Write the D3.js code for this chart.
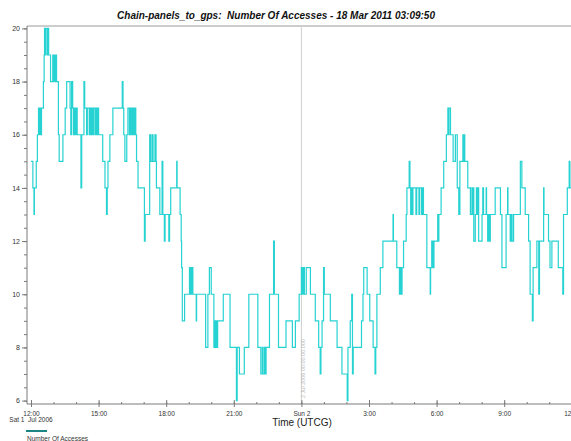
<!DOCTYPE html>
<html><head><meta charset="utf-8">
<script src="https://cdn.jsdelivr.net/npm/d3@7"></script>
<style>body{margin:0;background:#fff;}svg{display:block;font-family:"Liberation Sans",Arial,sans-serif;}text{white-space:pre;}</style>
</head><body>
<svg id="c" width="571" height="441"></svg>
<script>
// ---- data ----
const chartTitle = "Chain-panels_to_gps:  Number Of Accesses - 18 Mar 2011 03:09:50";
const startTime = "2006-07-01T12:00:00Z";
const endTime = "2006-07-02T12:00:00Z";
// step changes: minutes after start, number of accesses from that moment on
const stepMinutes = [0,5,8,9,14,17,20,22,24,26,28,33,35,36,38,39,43,45,47,52,58,61,62,64,65,68,73,75,85,91,95,104,106,108,111,113,115,118,120,123,133,135,141,143,148,150,155,157,160,162,165,167,171,173,176,178,180,191,197,201,203,205,210,218,243,245,247,250,255,258,262,265,268,271,274,277,279,281,285,302,304,316,318,322,325,330,333,334,343,
349,351,355,357,367,369,372,388,389,397,400,401,403,409,422,424,426,428,430,431,440,441,465,471,475,480,487,489,491,493,495,497,512,530,547,549,555,568,580,604,612,616,618,622,624,626,635,646,648,659,679,696,704,
714,720,722,725,728,733,744,757,766,770,772,775,779,781,797,815,828,842,844,850,854,856,858,880,884,886,895,902,911,916,918,921,930,937,964,965,974,981,983,985,988,992,999,1001,1007,1009,1011,1013,1015,1017,1025,1027,1033,1035,1040,1042,1045,1054,1063,1064,1067,1070,1073,
1077,1083,1085,1086,1092,1099,1106,1110,1112,1113,1117,1124,1130,1135,1139,1142,1150,1152,1153,1155,1163,1170,1174,1175,1178,1179,1183,1186,1188,1190,1192,1201,1203,1205,1212,1213,1216,1218,1220,1223,1236,1250,1254,1265,1269,1270,1276,1278,1281,1285,1303,1307,1316,1325,1329,1335,1337,1347,1352,1354,1365,1366,1378,1382,1387,1404,1416,1418,1428,1433,1435,1440];
const stepValues = [15,14,13,14,15,16,17,16,17,16,17,18,19,20,19,20,19,20,19,18,19,18,19,18,19,18,16,15,16,17,18,17,16,18,17,16,17,16,17,16,14,16,18,17,16,17,16,17,16,17,16,17,16,17,16,17,16,15,14,13,14,15,16,17,18,17,16,15,16,17,16,17,16,17,16,17,16,15,14,12,13,16,15,16,15,16,15,14,13,
15,13,12,13,12,13,14,15,14,13,12,11,9,10,11,10,11,10,11,10,9,10,8,10,11,10,8,9,8,9,8,9,10,8,6,8,7,8,10,8,7,8,7,8,7,8,10,12,10,8,9,8,9,
10,11,10,11,10,11,10,9,8,7,8,9,11,10,9,8,7,6,8,9,10,7,8,9,10,11,10,9,8,7,8,10,11,12,13,12,11,10,11,10,11,12,13,14,15,14,13,14,13,14,13,14,13,14,13,14,13,11,10,11,12,11,12,
12,13,12,13,14,15,16,17,16,17,16,15,16,14,13,15,16,15,16,15,14,13,14,13,14,12,13,14,13,14,12,13,14,13,14,13,12,13,12,13,14,13,11,13,14,13,12,13,12,13,15,14,13,12,10,9,11,12,10,12,14,13,12,11,12,11,10,13,14,15,14,14];
const xTickLabels = ["12:00","15:00","18:00","21:00","Sun 2","3:00","6:00","9:00","12:00"];
const xTickHours = [0,3,6,9,12,15,18,21,24];
const yTickValues = [6,8,10,12,14,16,18,20];
const dateLabel = "Sat 1  Jul 2006";
const markerLabel = "2 Jul 2006 00:00:00.000";
const markerHour = 12;
const xAxisTitle = "Time (UTCG)";
const seriesName = "Number Of Accesses";

// ---- drawing ----
const svg = d3.select("#c");
const t0 = new Date(startTime), t1 = new Date(endTime);
const x = d3.scaleUtc().domain([t0, t1]).range([31, 571.8]);
const y = d3.scaleLinear().domain([6, 20]).range([400.6, 28.4]);
const minuteToDate = m => new Date(t0.getTime() + m * 60000);
const data = stepMinutes.map((m, i) => ({t: minuteToDate(m), v: stepValues[i]}));

const axisColor = "#7a7a7a";
const plotTop = 26, plotBottom = 404, plotLeft = 27;

// title
svg.append("text").attr("x", 276).attr("y", 19).attr("text-anchor", "middle")
  .attr("font-size", 10).attr("font-weight", "bold").attr("font-style", "italic").attr("fill", "#111")
  .text(chartTitle);

// top frame line
svg.append("line").attr("x1", plotLeft).attr("x2", 571).attr("y1", plotTop).attr("y2", plotTop)
  .attr("stroke", "#9a9a9a").attr("stroke-width", 1);

// marker line at midnight
const mx = x(minuteToDate(markerHour * 60));
svg.append("line").attr("x1", mx).attr("x2", mx).attr("y1", plotTop).attr("y2", plotBottom)
  .attr("stroke", "#cfcfcf").attr("stroke-width", 1);
svg.append("text").attr("transform", `translate(${mx + 4},398) rotate(-90)`)
  .attr("font-size", 5.5).attr("fill", "#b8b8b8").text(markerLabel);

// series
const line = d3.line().x(d => x(d.t)).y(d => y(d.v)).curve(d3.curveStepAfter);
svg.append("path").datum(data).attr("d", line).attr("fill", "none")
  .attr("stroke", "#27d2d2").attr("stroke-width", 1.2);

// y axis
const yMinor = d3.range(6, 20.01, 0.5);
const yAxis = d3.axisLeft(y).tickValues(yMinor).tickSize(3).tickFormat("");
const yg = svg.append("g").attr("transform", `translate(${plotLeft},0)`).call(yAxis);
const yMajor = svg.append("g").attr("transform", `translate(${plotLeft},0)`)
  .call(d3.axisLeft(y).tickValues(yTickValues).tickSize(5).tickPadding(2).tickFormat(d3.format("d")));
[yg, yMajor].forEach(g => {
  g.select(".domain").attr("stroke", axisColor);
  g.selectAll(".tick line").attr("stroke", axisColor);
  g.selectAll(".tick text").attr("font-size", 7).attr("fill", "#333").attr("font-family", "Liberation Sans, Arial, sans-serif");
});
yg.select(".domain").attr("d", `M0,${plotTop}V${plotBottom}`);
yMajor.select(".domain").remove();

// x axis
const xg = svg.append("g").attr("transform", `translate(0,${plotBottom})`);
xg.append("line").attr("x1", plotLeft).attr("x2", 571).attr("stroke", axisColor);
const hourTicks = d3.range(0, 25).map(h => minuteToDate(h * 60));
xg.call(d3.axisTop(x).tickValues(hourTicks).tickSize(2).tickFormat(""));
xg.select(".domain").remove();
xg.selectAll(".tick line").attr("stroke", axisColor);
const majorG = svg.append("g").attr("transform", `translate(0,${plotBottom})`);
majorG.call(d3.axisBottom(x).tickValues(xTickHours.map(h => minuteToDate(h * 60)))
  .tickSize(3).tickPadding(4).tickFormat((d, i) => xTickLabels[i]));
majorG.select(".domain").remove();
majorG.selectAll(".tick line").attr("stroke", axisColor).attr("y1", -4);
majorG.selectAll(".tick text").attr("font-size", 6.5).attr("fill", "#333").attr("font-family", "Liberation Sans, Arial, sans-serif");

svg.append("text").attr("x", x(t0)).attr("y", 422).attr("text-anchor", "middle")
  .attr("font-size", 6.5).attr("fill", "#333").text(dateLabel);

svg.append("text").attr("x", 302).attr("y", 425.5).attr("text-anchor", "middle")
  .attr("font-size", 10).attr("fill", "#222").text(xAxisTitle);

// legend
svg.append("line").attr("x1", 26).attr("x2", 47).attr("y1", 431).attr("y2", 431)
  .attr("stroke", "#1b8585").attr("stroke-width", 2);
svg.append("text").attr("x", 27).attr("y", 440.5).attr("font-size", 6.5).attr("fill", "#333").text(seriesName);
</script>
</body></html>
